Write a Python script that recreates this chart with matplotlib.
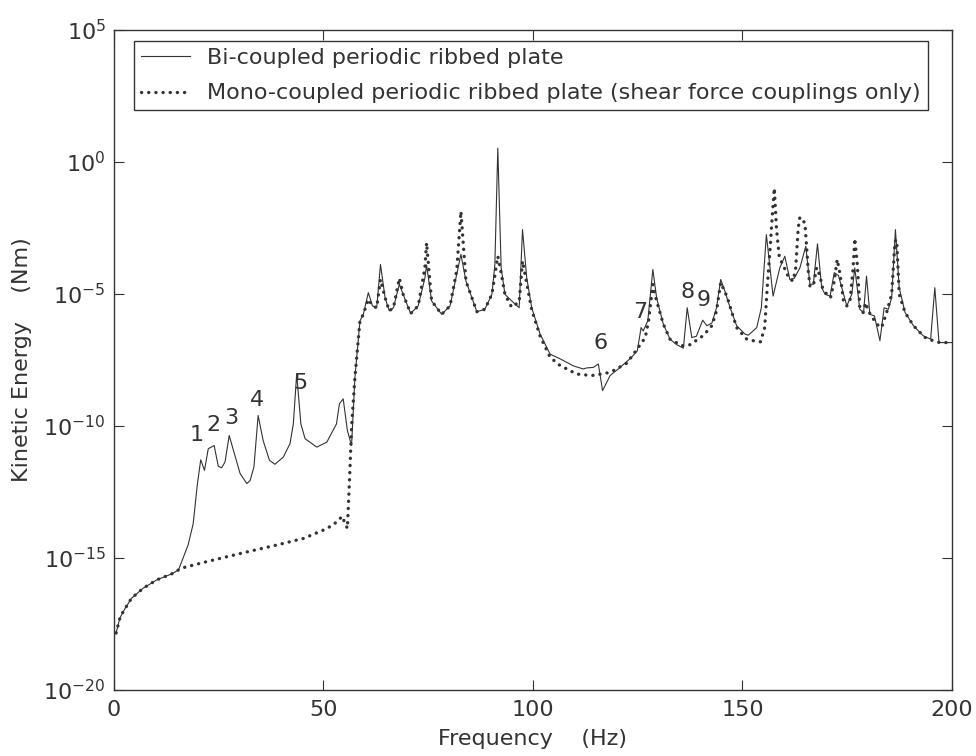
import numpy as np
import matplotlib
matplotlib.use('Agg')
import matplotlib.pyplot as plt

plt.rcParams['font.family'] = ['DejaVu Sans']
plt.rcParams['mathtext.fontset'] = 'dejavusans'

# Bi-coupled plate: frequency (Hz) and log10 of kinetic energy (Nm)
bi_freq = [0.5, 1.4, 2.2, 4.2, 7.0, 10.2, 13.8, 15.4, 17.7, 18.9, 19.9, 20.7, 21.6, 22.5, 23.9,
           24.9, 25.7, 26.5, 27.5, 28.5, 30.1, 31.7, 32.5, 33.4, 34.4, 35.6, 37.1, 38.4, 40.4,
           42.0, 42.8, 43.6, 44.6, 45.6, 48.4, 50.8, 53.1, 53.8, 54.7, 55.7, 56.7, 57.5, 58.7,
           59.5, 60.7, 61.7, 62.7, 63.6, 64.7, 65.7, 66.7, 68.1, 69.0, 70.8, 72.6, 74.2, 74.6,
           75.8, 78.2, 80.2, 81.8, 82.8, 84.0, 86.6, 88.5, 90.2, 90.9, 91.6, 92.4, 93.3, 94.9,
           96.7, 97.5, 98.5, 99.7, 101.7, 104.1, 106.4, 109.6, 112.0, 112.8, 114.4, 115.6, 116.6,
           118.4, 120.8, 123.5, 124.9, 125.8, 126.3, 127.4, 128.6, 129.5, 131.1, 132.7, 134.3,
           135.9, 136.8, 137.9, 139.0, 140.5, 141.5, 142.7, 143.8, 144.8, 145.8, 147.0, 148.6,
           150.6, 151.4, 153.4, 154.5, 155.7, 157.3, 158.9, 160.1, 161.3, 162.4, 163.7, 165.1,
           166.1, 166.9, 167.9, 168.9, 169.7, 170.9, 171.9, 172.9, 173.7, 174.9, 176.1, 176.8,
           178.0, 178.9, 179.6, 180.4, 181.5, 182.8, 183.8, 184.8, 185.6, 186.5, 187.4, 188.8,
           190.8, 193.1, 194.9, 195.9, 196.9, 200.0]
bi_log = [-17.84, -17.28, -17.03, -16.52, -16.14, -15.83, -15.6, -15.45, -14.5, -13.7, -12.2,
          -11.28, -11.68, -10.86, -10.74, -11.53, -11.58, -11.36, -10.36, -10.92, -11.8, -12.18,
          -12.06, -11.55, -9.6, -10.55, -11.3, -11.45, -11.18, -10.67, -9.92, -8.03, -9.92,
          -10.48, -10.8, -10.61, -9.92, -9.16, -8.97, -10.17, -10.74, -8.16, -6.02,
          -5.77, -4.95, -5.45, -5.52, -3.88, -5.14, -5.64, -5.52, -4.63, -5.01, -5.74, -5.45,
          -4.4, -3.9, -5.26, -5.77, -5.45, -4.26, -3.5, -4.51, -5.67, -5.58, -5.01, -3.88, 0.52,
          -4.0, -5.01, -5.26, -5.52, -2.56, -4.38, -5.52, -6.52, -7.28, -7.45, -7.72, -7.84,
          -7.8, -7.78, -7.65, -8.66, -8.09, -7.78, -7.40, -7.15, -6.27, -6.4, -6.02, -4.07,
          -5.14, -6.14, -6.71, -6.92, -7.05, -5.52, -6.65, -6.6, -5.99, -6.2, -6.1, -5.52,
          -4.45, -4.89, -5.5, -6.2, -6.52, -6.56, -6.27, -5.52, -2.75, -5.08, -4.01, -3.57,
          -4.45, -4.4, -4.01, -3.19, -4.63, -4.63, -3.1, -4.76, -5.01, -5.08, -4.19, -4.3,
          -4.76, -5.45, -5.0, -4.01, -5.58, -5.7, -4.32, -5.77, -5.83, -6.77, -5.52, -5.58,
          -5.14, -2.56, -4.76, -5.7, -6.2, -6.58, -6.71, -4.76, -6.84, -6.84]

# Mono-coupled plate (shear force couplings only)
mono_freq = [0.5, 1.4, 2.2, 4.2, 7.0, 10.2, 13.8, 15.4, 16.9, 22.1, 30.9, 38.8, 45.2, 50.0,
             52.3, 54.5, 54.9, 55.7, 56.3, 56.7, 57.5, 58.7, 59.5, 60.7, 61.7, 62.7, 63.6,
             64.7, 65.7, 66.7, 68.1, 69.0, 70.8, 72.6, 74.2, 74.6, 75.8, 78.2, 80.2, 81.8,
             82.8, 84.0, 86.6, 88.5, 90.2, 91.6, 92.4, 93.3, 94.9, 96.7, 97.5, 98.5, 99.7,
             101.7, 104.1, 106.4, 110.4, 114.0, 117.5, 119.2, 122.4, 125.1, 126.8, 127.6,
             128.6, 129.5, 131.1, 132.7, 135.6, 137.5, 140.6, 142.7, 143.8, 144.8, 146.3,
             148.6, 151.0, 152.6, 154.3, 155.3, 155.9, 156.6, 157.3, 157.6, 158.1, 158.8,
             159.7, 160.5, 161.3, 162.1, 162.7, 163.3, 163.7, 164.9, 165.3, 165.7, 166.1,
             166.9, 167.7, 168.5, 169.1, 170.1, 171.0, 171.9, 172.6, 173.3, 174.1, 174.9,
             175.7, 176.4, 176.8, 177.4, 178.0, 178.8, 179.4, 180.0, 180.8, 182.0, 183.2,
             184.4, 185.6, 186.4, 186.8, 187.4, 188.8, 190.8, 193.5, 195.5, 197.1, 200.0]
mono_log = [-17.84, -17.28, -17.03, -16.52, -16.14, -15.83, -15.6, -15.45, -15.35, -15.14,
            -14.8, -14.51, -14.26, -13.94, -13.75, -13.42, -13.6, -13.88, -11.68, -10.04,
            -8.16, -6.02, -5.77, -5.2, -5.45, -5.52, -4.45, -5.14, -5.64, -5.52, -4.4, -5.01,
            -5.74, -5.45, -4.0, -3.06, -5.26, -5.77, -5.45, -4.1, -1.87, -4.51, -5.67, -5.58,
            -5.01, -3.57, -4.2, -5.01, -5.5, -5.3, -3.75, -4.6, -5.6, -6.6, -7.4, -7.7, -8.03,
            -8.09, -8.0, -7.9, -7.62, -7.03, -6.65, -6.0, -4.64, -5.26, -6.14, -6.71, -6.96,
            -6.92, -6.58, -6.2, -5.64, -4.57, -5.1, -6.27, -6.71, -6.77, -6.81, -6.27, -4.76,
            -3.25, -1.61, -0.99, -2.5, -3.63, -3.9, -4.2, -4.45, -4.5, -4.01, -2.5, -2.09,
            -2.31, -3.25, -4.13, -4.7, -4.7, -4.0, -4.32, -4.76, -5.01, -5.14, -4.51, -3.69,
            -4.26, -5.26, -5.45, -5.2, -4.01, -2.9, -3.88, -5.52, -5.7, -5.33, -5.64, -5.83,
            -6.14, -6.27, -5.7, -5.01, -3.0, -2.95, -5.01, -5.7, -6.2, -6.64, -6.77, -6.84,
            -6.84]

# mode labels: text, frequency, log10 position
mode_labels = ['1', '2', '3', '4', '5', '6', '7', '8', '9']
mode_freq = [19.7, 23.7, 28.1, 34.2, 44.4, 116.2, 125.5, 136.9, 140.7]
mode_log = [-10.34, -9.96, -9.71, -9.02, -8.37, -6.87, -5.67, -4.91, -5.23]

ytick_exp = [5, 0, -5, -10, -15, -20]

fig = plt.figure(figsize=(9.76, 7.56), dpi=100)
ax = fig.add_axes([0.1168, 0.0873, 0.8586, 0.873])

col = '#333333'
fs = 16
ax.semilogy(bi_freq, 10.0 ** np.array(bi_log), '-', color=col, lw=0.8,
            label='Bi-coupled periodic ribbed plate')
ax.semilogy(mono_freq, 10.0 ** np.array(mono_log), color=col, lw=2.4,
            linestyle=(0, (0.05, 2.1)), dash_capstyle='round',
            label='Mono-coupled periodic ribbed plate (shear force couplings only)')

for t, f, l in zip(mode_labels, mode_freq, mode_log):
    ax.text(f, 10.0 ** l, t, ha='center', va='center', fontsize=fs, color=col)

ax.set_xlim(0, 200)
ax.set_ylim(1e-20, 1e5)
ax.set_xticks([0, 50, 100, 150, 200])
ax.set_yticks([10.0 ** e for e in ytick_exp])
ax.set_yticklabels([r'$\mathregular{10^{%d}}$' % e for e in ytick_exp])
ax.minorticks_off()
ax.tick_params(direction='in', top=True, right=True, length=7, width=0.8,
               labelsize=fs, colors=col)
ax.tick_params(axis='x', pad=7)
ax.tick_params(axis='y', pad=6)
for s in ax.spines.values():
    s.set_color(col)
    s.set_linewidth(1.0)

ax.set_xlabel('Frequency    (Hz)', fontsize=fs, color=col, labelpad=7)
ax.set_ylabel('Kinetic Energy    (Nm)', fontsize=fs, color=col, labelpad=8)

leg = ax.legend(loc='upper left', bbox_to_anchor=(0.024, 0.983), borderaxespad=0,
                fontsize=fs, fancybox=False, framealpha=1, edgecolor=col,
                handlelength=2.2, handletextpad=0.8, labelspacing=0.7, borderpad=0.3)
leg.get_frame().set_linewidth(1.0)
for t in leg.get_texts():
    t.set_color(col)

plt.savefig('out.png', dpi=100)
